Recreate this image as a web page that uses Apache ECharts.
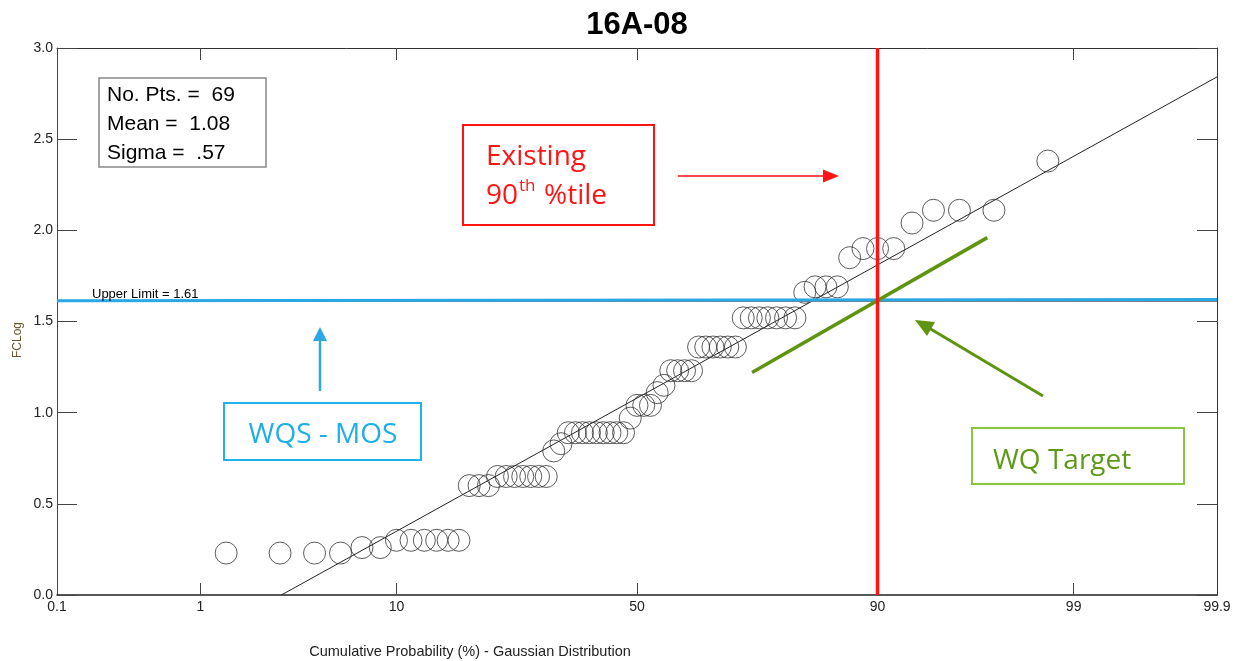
<!DOCTYPE html>
<html>
<head>
<meta charset="utf-8">
<title>16A-08</title>
<script src="https://cdn.jsdelivr.net/npm/echarts@6/dist/echarts.min.js"></script>
<style>
  html, body { margin: 0; padding: 0; background: #fff; }
  #chart { width: 1239px; height: 661px; }
</style>
</head>
<body>
<div id="chart"></div>
<script>
// Probability-axis tick positions (cumulative %) and their labels
const PROB_TICKS = [0.1, 1, 10, 50, 90, 99, 99.9];
const PROB_LABELS = ['0.1', '1', '10', '50', '90', '99', '99.9'];

// Plotting position (cumulative %) of each ranked sample
const CUM_PROB = [
  1.43, 2.86, 4.29, 5.71, 7.14, 8.57, 10.00, 11.43, 12.86, 14.29,
  15.71, 17.14, 18.57, 20.00, 21.43, 22.86, 24.29, 25.71, 27.14, 28.57,
  30.00, 31.43, 32.86, 34.29, 35.71, 37.14, 38.57, 40.00, 41.43, 42.86,
  44.29, 45.71, 47.14, 48.57, 50.00, 51.43, 52.86, 54.29, 55.71, 57.14,
  58.57, 60.00, 61.43, 62.86, 64.29, 65.71, 67.14, 68.57, 70.00, 71.43,
  72.86, 74.29, 75.71, 77.14, 78.57, 80.00, 81.43, 82.86, 84.29, 85.71,
  87.14, 88.57, 90.00, 91.43, 92.86, 94.29, 95.71, 97.14, 98.57
];

// Sorted log10 fecal coliform values
const FC_LOG = [
  0.23, 0.23, 0.23, 0.23, 0.26, 0.26,
  0.30, 0.30, 0.30, 0.30, 0.30, 0.30,
  0.60, 0.60, 0.60,
  0.65, 0.65, 0.65, 0.65, 0.65, 0.65, 0.65,
  0.79, 0.83,
  0.89, 0.89, 0.89, 0.89, 0.89, 0.89, 0.89, 0.89, 0.89,
  0.97,
  1.04, 1.04, 1.04,
  1.11, 1.15,
  1.23, 1.23, 1.23, 1.23,
  1.36, 1.36, 1.36, 1.36, 1.36, 1.36,
  1.52, 1.52, 1.52, 1.52, 1.52, 1.52, 1.52,
  1.66, 1.69, 1.69, 1.69,
  1.85, 1.90, 1.90, 1.90,
  2.04, 2.11, 2.11, 2.11,
  2.38
];

// Summary statistics of the sample
const N_PTS = 69;
const MEAN = 1.08;
const SIGMA = 0.57;

// Reference levels
const UPPER_LIMIT = 1.61;
const PCT_90 = 90;
const TARGET_P = [73.0, 96.9];
const TARGET_V = [1.22, 1.96];

// Inverse standard normal CDF (Acklam)
function probit(p) {
  const a = [-3.969683028665376e+01, 2.209460984245205e+02, -2.759285104469687e+02, 1.383577518672690e+02, -3.066479806614716e+01, 2.506628277459239e+00];
  const b = [-5.447609879822406e+01, 1.615858368580409e+02, -1.556989798598866e+02, 6.680131188771972e+01, -1.328068155288572e+01];
  const c = [-7.784894002430293e-03, -3.223964580411365e-01, -2.400758277161838e+00, -2.549732539343734e+00, 4.374664141464968e+00, 2.938163982698783e+00];
  const d = [7.784695709041462e-03, 3.224671290700398e-01, 2.445134137142996e+00, 3.754408661907416e+00];
  const pl = 0.02425, ph = 1 - pl;
  let q, r;
  if (p < pl) {
    q = Math.sqrt(-2 * Math.log(p));
    return (((((c[0]*q+c[1])*q+c[2])*q+c[3])*q+c[4])*q+c[5]) / ((((d[0]*q+d[1])*q+d[2])*q+d[3])*q+1);
  }
  if (p <= ph) {
    q = p - 0.5; r = q * q;
    return (((((a[0]*r+a[1])*r+a[2])*r+a[3])*r+a[4])*r+a[5])*q / (((((b[0]*r+b[1])*r+b[2])*r+b[3])*r+b[4])*r+1);
  }
  q = Math.sqrt(-2 * Math.log(1 - p));
  return -(((((c[0]*q+c[1])*q+c[2])*q+c[3])*q+c[4])*q+c[5]) / ((((d[0]*q+d[1])*q+d[2])*q+d[3])*q+1);
}
const zOf = pct => probit(pct / 100);

const TICK_Z = PROB_TICKS.map(zOf);
const Z_MIN = TICK_Z[0];
const Z_MAX = TICK_Z[TICK_Z.length - 1];
const INNER_TICKS = TICK_Z.slice(1, -1);

function probLabel(v) {
  let best = 0;
  TICK_Z.forEach((z, i) => { if (Math.abs(z - v) < Math.abs(TICK_Z[best] - v)) best = i; });
  return PROB_LABELS[best];
}

const FONT = '"Liberation Sans", Arial, sans-serif';
const ANN_FONT = '"Open Sans", "Noto Sans", sans-serif';
const RED = '#ff1414';
const BLUE = '#2aa7e4';
const GREEN = '#5f9410';

const points = CUM_PROB.map((p, i) => [zOf(p), FC_LOG[i]]);
const fitLow = -MEAN / SIGMA;
const fitLine = [[fitLow, MEAN + SIGMA * fitLow], [Z_MAX, MEAN + SIGMA * Z_MAX]];

const chart = echarts.init(document.getElementById('chart'), null, { renderer: 'canvas' });

const frameLine = { show: true, onZero: false, lineStyle: { color: '#333', width: 1 } };

chart.setOption({
  animation: false,
  backgroundColor: '#fff',
  grid: { left: 57, right: 22, top: 48, bottom: 66, containLabel: false },
  xAxis: [
    {
      type: 'value', position: 'bottom', min: Z_MIN, max: Z_MAX,
      axisLine: { show: true, onZero: false, lineStyle: { color: '#222', width: 1.5 } },
      axisTick: { show: true, inside: true, length: 12, customValues: INNER_TICKS, lineStyle: { color: '#444' } },
      axisLabel: { show: true, customValues: TICK_Z, formatter: probLabel, margin: 5,
                   fontFamily: FONT, fontSize: 14, color: '#222' },
      splitLine: { show: false }
    },
    {
      type: 'value', position: 'top', min: Z_MIN, max: Z_MAX,
      axisLine: frameLine,
      axisTick: { show: true, inside: true, length: 12, customValues: INNER_TICKS, lineStyle: { color: '#444' } },
      axisLabel: { show: false },
      splitLine: { show: false }
    }
  ],
  yAxis: [
    {
      type: 'value', position: 'left', min: 0, max: 3, interval: 0.5,
      axisLine: { show: true, onZero: false, lineStyle: { color: '#444', width: 1 } },
      axisTick: { show: true, inside: true, length: 20, lineStyle: { color: '#444' } },
      axisLabel: { formatter: v => v.toFixed(1), margin: 4, fontFamily: FONT, fontSize: 14, color: '#222' },
      splitLine: { show: false }
    },
    {
      type: 'value', position: 'right', min: 0, max: 3, interval: 0.5,
      axisLine: frameLine,
      axisTick: { show: true, inside: true, length: 20, lineStyle: { color: '#444' } },
      axisLabel: { show: false },
      splitLine: { show: false }
    }
  ],
  series: [
    {
      name: 'Fit', type: 'line', data: fitLine, symbol: 'none', silent: true, z: 3,
      lineStyle: { color: '#222', width: 1 }
    },
    {
      name: 'FCLog', type: 'scatter', data: points, symbol: 'circle', symbolSize: 22, z: 4,
      itemStyle: { color: 'rgba(0,0,0,0)', borderColor: '#333', borderWidth: 1 },
      emphasis: { disabled: true }
    },
    {
      name: 'Upper Limit', type: 'line', data: [[Z_MIN, UPPER_LIMIT], [Z_MAX, UPPER_LIMIT]],
      symbol: 'none', silent: true, z: 5, lineStyle: { color: '#777', width: 1 }
    },
    {
      name: 'WQS - MOS', type: 'line', data: [[Z_MIN, UPPER_LIMIT + 0.004], [Z_MAX, UPPER_LIMIT + 0.01]],
      symbol: 'none', silent: true, z: 6, lineStyle: { color: BLUE, width: 3 }
    },
    {
      name: 'WQ Target', type: 'line', data: TARGET_P.map((p, i) => [zOf(p), TARGET_V[i]]),
      symbol: 'none', silent: true, z: 7, lineStyle: { color: GREEN, width: 3.5 }
    },
    {
      name: 'Existing 90th', type: 'line', data: [[zOf(PCT_90), 0], [zOf(PCT_90), 3]],
      symbol: 'none', silent: true, z: 8, lineStyle: { color: RED, width: 3.5 }
    }
  ],
  graphic: [
    // chart title, centred over the plot area
    { type: 'text', x: 637, y: 25, z: 11,
      style: { text: '16A-08', font: 'bold 31px ' + FONT, fill: '#000', align: 'center', verticalAlign: 'middle' } },

    // summary statistics box
    { type: 'rect', shape: { x: 99, y: 78, width: 167, height: 89 },
      style: { fill: '#fff', stroke: '#888', lineWidth: 1.5 }, z: 10 },
    { type: 'text', x: 107, y: 95, z: 11,
      style: { text: 'No. Pts. =  ' + N_PTS, font: '21px ' + FONT, fill: '#000', verticalAlign: 'middle' } },
    { type: 'text', x: 107, y: 124, z: 11,
      style: { text: 'Mean =  ' + MEAN.toFixed(2), font: '21px ' + FONT, fill: '#000', verticalAlign: 'middle' } },
    { type: 'text', x: 107, y: 153, z: 11,
      style: { text: 'Sigma =  ' + SIGMA.toFixed(2).replace(/^0/, ''), font: '21px ' + FONT, fill: '#000', verticalAlign: 'middle' } },

    // upper limit caption
    { type: 'text', x: 92, y: 294, z: 11,
      style: { text: 'Upper Limit = ' + UPPER_LIMIT.toFixed(2), font: '13px ' + FONT, fill: '#000', verticalAlign: 'middle' } },

    // existing 90th percentile callout
    { type: 'rect', shape: { x: 463, y: 125, width: 191, height: 100 },
      style: { fill: 'none', stroke: RED, lineWidth: 2 }, z: 10 },
    { type: 'text', x: 486, y: 157, z: 11,
      style: { text: 'Existing', font: '28px ' + ANN_FONT, fill: RED, verticalAlign: 'middle' } },
    { type: 'text', x: 486, y: 196, z: 11,
      style: { text: '90', font: '28px ' + ANN_FONT, fill: RED, verticalAlign: 'middle' } },
    { type: 'text', x: 519, y: 186, z: 11,
      style: { text: 'th', font: '17px ' + ANN_FONT, fill: RED, verticalAlign: 'middle' } },
    { type: 'text', x: 544, y: 196, z: 11,
      style: { text: '%tile', font: '28px ' + ANN_FONT, fill: RED, verticalAlign: 'middle' } },
    { type: 'line', shape: { x1: 678, y1: 176, x2: 826, y2: 176 },
      style: { stroke: RED, lineWidth: 1.5 }, z: 10 },
    { type: 'polygon', shape: { points: [[839, 176], [823, 169.5], [823, 182.5]] },
      style: { fill: RED }, z: 10 },

    // WQS - MOS callout
    { type: 'rect', shape: { x: 224, y: 403, width: 197, height: 57 },
      style: { fill: 'none', stroke: '#1fb3ea', lineWidth: 2 }, z: 10 },
    { type: 'text', x: 323, y: 435, z: 11,
      style: { text: 'WQS - MOS', font: '28px ' + ANN_FONT, fill: '#1fafe6', align: 'center', verticalAlign: 'middle' } },
    { type: 'line', shape: { x1: 320, y1: 391, x2: 320, y2: 340 },
      style: { stroke: BLUE, lineWidth: 2.5 }, z: 10 },
    { type: 'polygon', shape: { points: [[320, 327], [313, 341], [327, 341]] },
      style: { fill: BLUE }, z: 10 },

    // WQ Target callout
    { type: 'rect', shape: { x: 972, y: 428, width: 212, height: 56 },
      style: { fill: 'none', stroke: '#8cc63f', lineWidth: 2 }, z: 10 },
    { type: 'text', x: 993, y: 461, z: 11,
      style: { text: 'WQ Target', font: '28px ' + ANN_FONT, fill: '#5e9a18', verticalAlign: 'middle' } },
    { type: 'line', shape: { x1: 1043, y1: 396, x2: 929, y2: 328 },
      style: { stroke: GREEN, lineWidth: 3 }, z: 10 },
    { type: 'polygon', shape: { points: [[915, 320], [935, 322], [927, 336]] },
      style: { fill: GREEN }, z: 10 },

    // axis names
    { type: 'text', x: 18, y: 340, rotation: Math.PI / 2, z: 11,
      style: { text: 'FCLog', font: '12px ' + FONT, fill: '#6b5530', align: 'center', verticalAlign: 'middle' } },
    { type: 'text', x: 470, y: 652, z: 11,
      style: { text: 'Cumulative Probability (%) - Gaussian Distribution', font: '14.5px ' + FONT, fill: '#222',
               align: 'center', verticalAlign: 'middle' } }
  ]
});
</script>
</body>
</html>
